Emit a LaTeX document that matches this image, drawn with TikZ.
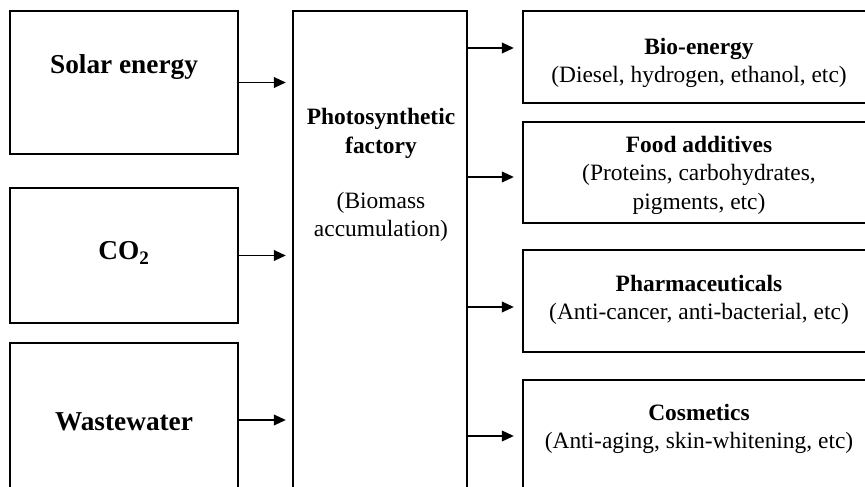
\documentclass[tikz,border=0pt]{standalone}
\usepackage{fontspec}
\setmainfont{Liberation Serif}
\usetikzlibrary{arrows.meta}

\begin{document}
\begin{tikzpicture}[x=0.03cm,y=-0.03cm,
  box/.style={draw,line width=0.07cm,inner sep=0pt},
  intxt/.style={font=\fontsize{23.3}{28}\selectfont\bfseries,align=center},
  outtxt/.style={font=\fontsize{20}{24.3}\selectfont,align=center},
  arr/.style={line width=0.05cm,-{Triangle[length=0.36cm,width=0.32cm]}}]

% ===== 参数 =====
\def\pxu{0.03cm}  % 一个像素 (cm)
\def\gapin{0.18cm} % 箭头到中框的空隙
\def\gapout{0.24cm} % 箭头到右框的空隙

\useasboundingbox (0,0) rectangle (865,487);
\clip (0,0) rectangle (865,487);

% ===== 左侧输入 =====
\node[box,minimum width=228*\pxu,minimum height=143*\pxu] (solar) at (124,82.5) {};
\node[box,minimum width=228*\pxu,minimum height=135*\pxu] (co2) at (124,255.5) {};
\node[box,minimum width=228*\pxu,minimum height=154*\pxu] (waste) at (124,420) {};

\node[intxt] (solar-t) at (124,67) {Solar energy};
\node[intxt] (co2-t) at (124,253) {CO\textsubscript{2}};
\node[intxt] (waste-t) at (124,422) {Wastewater};

% ===== 中间工厂 =====
\node[box,minimum width=174*\pxu,minimum height=489*\pxu] (factory) at (380,255.5) {};
\node[outtxt] (factory-t) at (381,175)
  {\textbf{Photosynthetic}\\\textbf{factory}\\[0.8cm](Biomass\\accumulation)};

% ===== 右侧产品 =====
\node[box,minimum width=357*\pxu,minimum height=92*\pxu] (bio) at (701.5,57) {};
\node[box,minimum width=357*\pxu,minimum height=101*\pxu] (food) at (701.5,172.5) {};
\node[box,minimum width=357*\pxu,minimum height=102*\pxu] (pharma) at (701.5,301) {};
\node[box,minimum width=357*\pxu,minimum height=110*\pxu] (cosm) at (701.5,435) {};

\node[outtxt] (bio-t) at (699,63)
  {\textbf{Bio-energy}\\(Diesel, hydrogen, ethanol, etc)};
\node[outtxt] (food-t) at (699,175)
  {\textbf{Food additives}\\(Proteins, carbohydrates,\\pigments, etc)};
\node[outtxt] (pharma-t) at (699,300)
  {\textbf{Pharmaceuticals}\\(Anti-cancer, anti-bacterial, etc)};
\node[outtxt] (cosm-t) at (699,429)
  {\textbf{Cosmetics}\\(Anti-aging, skin-whitening, etc)};

% ===== 箭头 =====
\foreach \src in {solar,co2,waste}
  \draw[arr,shorten >=\gapin] (\src.east) -- (\src.east -| factory.west);

\draw[arr,shorten >=\gapout] ([yshift=9*\pxu]bio.west -| factory.east) -- ([yshift=9*\pxu]bio.west);
\draw[arr,shorten >=\gapout] ([yshift=-4.5*\pxu]food.west -| factory.east) -- ([yshift=-4.5*\pxu]food.west);
\draw[arr,shorten >=\gapout] ([yshift=-6*\pxu]pharma.west -| factory.east) -- ([yshift=-6*\pxu]pharma.west);
\draw[arr,shorten >=\gapout] ([yshift=-1*\pxu]cosm.west -| factory.east) -- ([yshift=-1*\pxu]cosm.west);

\end{tikzpicture}
\end{document}
